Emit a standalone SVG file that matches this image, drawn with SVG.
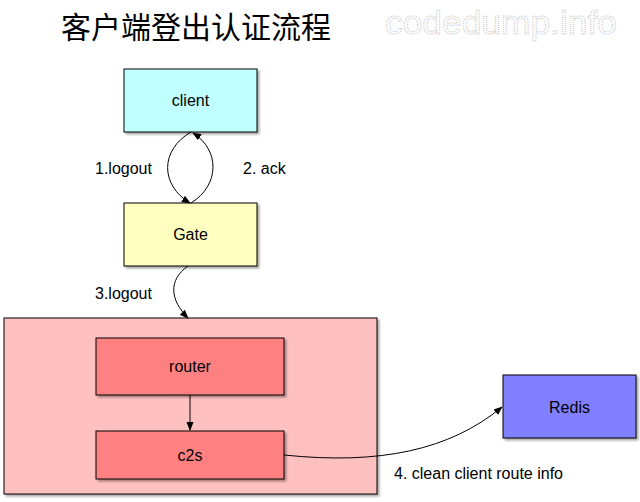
<svg xmlns="http://www.w3.org/2000/svg" width="640" height="502" viewBox="0 0 640 502">
<defs>
<filter id="sh" x="-10%" y="-10%" width="130%" height="130%">
<feDropShadow dx="2" dy="2" stdDeviation="1.2" flood-color="#000" flood-opacity="0.35"/>
</filter>
<marker id="ah" viewBox="0 0 10 10" refX="9" refY="5" markerWidth="9" markerHeight="9" markerUnits="userSpaceOnUse" orient="auto">
<path d="M0,1 L10,5 L0,9 Z" fill="#000"/>
</marker>
</defs>
<style>
.box{stroke:#000;stroke-width:1;filter:url(#sh)}
.t{font-family:"Liberation Sans",Arial,sans-serif;font-size:16px;fill:#000;text-anchor:middle}
.l{font-family:"Liberation Sans",Arial,sans-serif;font-size:16px;fill:#000}
.c{fill:none;stroke:#000;stroke-width:1;marker-end:url(#ah)}
</style>
<rect width="640" height="502" fill="#fff"/>
<text x="196" y="38" style="font-family:'Noto Sans CJK SC','Noto Sans',sans-serif;font-size:30px;fill:#000;text-anchor:middle">客户端登出认证流程</text>
<text x="501" y="34" style="font-family:'Liberation Sans',Arial,sans-serif;font-size:33px;fill:none;stroke:#c8c8c8;stroke-width:1;stroke-dasharray:1 1;text-anchor:middle" textLength="232" lengthAdjust="spacingAndGlyphs">codedump.info</text>
<g id="server">
<rect class="box" x="4" y="318" width="373" height="176" fill="#ffc0c0"/>
</g>
<g id="client">
<rect class="box" x="124" y="69" width="133" height="63" fill="#c0ffff"/>
<text class="t" x="190.5" y="106">client</text>
</g>
<g id="gate">
<rect class="box" x="124" y="203" width="133" height="63" fill="#ffffc0"/>
<text class="t" x="190.5" y="240">Gate</text>
</g>
<g id="router">
<rect class="box" x="96" y="338" width="188" height="57" fill="#ff8080"/>
<text class="t" x="190" y="372">router</text>
</g>
<g id="c2s">
<rect class="box" x="96" y="431" width="188" height="48" fill="#ff8080"/>
<text class="t" x="190" y="461">c2s</text>
</g>
<g id="redis">
<rect class="box" x="503" y="375" width="133" height="63" fill="#8080ff"/>
<text class="t" x="569.5" y="413">Redis</text>
</g>
<g id="connectors">
<path class="c" d="M191,132 C160,150 160,185 190,203"/>
<path class="c" d="M191,203 C220,185 220,150 193,133"/>
<path class="c" d="M188,266 C168,280 170,300 188,318"/>
<path class="c" d="M190,395 L190,430"/>
<path class="c" d="M284,455 C380,465 450,450 502,407"/>
</g>
<g id="labels">
<text class="l" x="95" y="174">1.logout</text>
<text class="l" x="243" y="174">2. ack</text>
<text class="l" x="95" y="299">3.logout</text>
<text class="l" x="394" y="479">4. clean client route info</text>
</g>
</svg>
